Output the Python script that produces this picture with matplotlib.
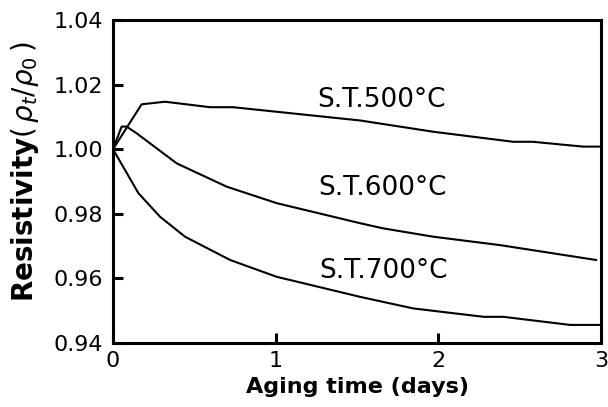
import matplotlib
matplotlib.use("Agg")
import matplotlib.pyplot as plt

plt.rcParams['font.family'] = ['DejaVu Sans']
plt.rcParams['mathtext.fontset'] = 'dejavusans'

# values (aging time in days, rho_t / rho_0)
t_500 = [0.0, 0.176, 0.32, 0.597, 0.738, 1.518, 1.97, 2.46, 2.58, 2.89, 3.0]
r_500 = [1.000, 1.0139, 1.0147, 1.0130, 1.0130, 1.0089, 1.0054, 1.0023, 1.0023, 1.0008, 1.0008]

t_600 = [0.0, 0.053, 0.084, 0.146, 0.392, 0.699, 1.006, 1.518, 1.66, 1.97, 2.38, 2.97]
r_600 = [1.000, 1.0070, 1.0070, 1.0049, 0.9956, 0.9884, 0.9833, 0.9771, 0.9755, 0.9729, 0.9703, 0.9657]

t_700 = [0.0, 0.156, 0.289, 0.443, 0.72, 1.006, 1.518, 1.70, 1.846, 2.28, 2.40, 2.81, 3.0]
r_700 = [1.000, 0.9864, 0.9791, 0.9729, 0.9657, 0.9605, 0.9543, 0.9523, 0.9507, 0.9481, 0.9481, 0.9456, 0.9456]

labels = ['S.T.500°C', 'S.T.600°C', 'S.T.700°C']
label_pos = [(1.65, 1.0152), (1.655, 0.9880), (1.665, 0.9623)]

fig = plt.figure(figsize=(6.08, 4.07), dpi=100)
ax = fig.add_axes([113 / 608, 1 - 343 / 407, (601 - 113) / 608, (343 - 20) / 407])

for t, r in [(t_500, r_500), (t_600, r_600), (t_700, r_700)]:
    ax.plot(t, r, color='black', lw=1.5)

for lab, (x, y) in zip(labels, label_pos):
    ax.text(x, y, lab, fontsize=19, ha='center', va='center')

ax.set_xlim(0, 3)
ax.set_ylim(0.94, 1.04)
ax.set_xticks([0, 1, 2, 3])
ax.set_yticks([0.94, 0.96, 0.98, 1.00, 1.02, 1.04])
ax.set_yticklabels(['0.94', '0.96', '0.98', '1.00', '1.02', '1.04'])

for s in ax.spines.values():
    s.set_linewidth(2.2)
ax.tick_params(direction='in', length=7, width=2.2, labelsize=16, pad=7)
ax.tick_params(axis='x', pad=6)

fig.text(357 / 608, 1 - 387 / 407, 'Aging time (days)', fontsize=16,
         fontweight='bold', ha='center', va='center')
fig.text(25 / 608, 1 - 172 / 407, 'Resistivity' + r'$(\,\rho_t/\rho_0\,)$',
         fontsize=20, fontweight='bold', rotation=90, ha='center', va='center')

fig.savefig('out.png', dpi=100)
